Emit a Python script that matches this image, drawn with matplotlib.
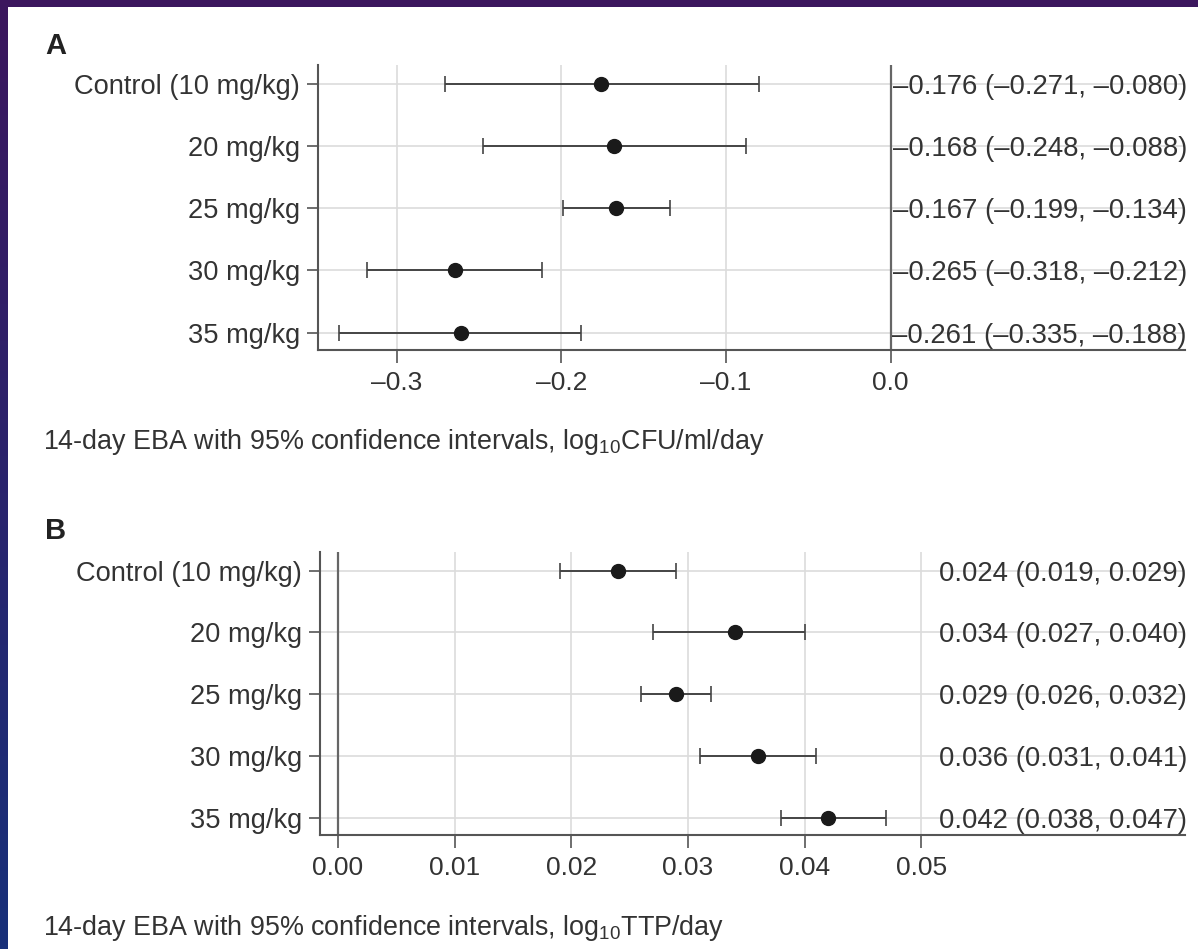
import matplotlib
matplotlib.use("Agg")
import matplotlib.pyplot as plt
import numpy as np
from matplotlib.patches import Rectangle

plt.rcParams['font.family'] = ['Liberation Sans', 'DejaVu Sans']
plt.rcParams['mathtext.fontset'] = 'custom'
plt.rcParams['mathtext.rm'] = 'Liberation Sans'

categories = ["Control (10 mg/kg)", "20 mg/kg", "25 mg/kg", "30 mg/kg", "35 mg/kg"]

a_est = [-0.176, -0.168, -0.167, -0.265, -0.261]
a_lo = [-0.271, -0.248, -0.199, -0.318, -0.335]
a_hi = [-0.080, -0.088, -0.134, -0.212, -0.188]
a_labels = ["\u20130.176 (\u20130.271, \u20130.080)",
            "\u20130.168 (\u20130.248, \u20130.088)",
            "\u20130.167 (\u20130.199, \u20130.134)",
            "\u20130.265 (\u20130.318, \u20130.212)",
            "\u20130.261 (\u20130.335, \u20130.188)"]
a_ticks = [-0.3, -0.2, -0.1, 0.0]
a_ticklabels = ["\u20130.3", "\u20130.2", "\u20130.1", "0.0"]

b_est = [0.024, 0.034, 0.029, 0.036, 0.042]
b_lo = [0.019, 0.027, 0.026, 0.031, 0.038]
b_hi = [0.029, 0.040, 0.032, 0.041, 0.047]
b_labels = ["0.024 (0.019, 0.029)", "0.034 (0.027, 0.040)", "0.029 (0.026, 0.032)",
            "0.036 (0.031, 0.041)", "0.042 (0.038, 0.047)"]
b_ticks = [0.00, 0.01, 0.02, 0.03, 0.04, 0.05]
b_ticklabels = ["0.00", "0.01", "0.02", "0.03", "0.04", "0.05"]

W, H = 1198, 949
fig = plt.figure(figsize=(W / 100, H / 100), dpi=100)

# background gradient
bg = fig.add_axes([0, 0, 1, 1])
bg.set_axis_off()
top = np.array([0x3c, 0x17, 0x5e]) / 255
bot = np.array([0x18, 0x30, 0x7a]) / 255
t = np.linspace(0, 1, 256)[:, None]
grad = top[None, None, :] * (1 - t[:, :, None]) + bot[None, None, :] * t[:, :, None]
bg.imshow(grad, aspect='auto', extent=[0, 1, 0, 1], origin='upper')
bg.add_patch(Rectangle((8 / W, 0), 1 - 8 / W, 1 - 7 / H, transform=bg.transAxes,
                       facecolor='white', edgecolor='none'))
bg.set_xlim(0, 1); bg.set_ylim(0, 1)

TXT = '#333333'
SP = '#555555'
GRID = '#dcdcdc'


def panel(rect, est, lo, hi, labels, ticks, ticklabels, xlim, text_ha, text_x):
    ax = fig.add_axes(rect)
    ax.set_facecolor('none')
    y = np.arange(len(categories))
    for spn in ['top', 'right']:
        ax.spines[spn].set_visible(False)
    for spn in ['left', 'bottom']:
        ax.spines[spn].set_color(SP)
        ax.spines[spn].set_linewidth(1.5)
    ax.set_xlim(*xlim)
    ax.set_ylim(len(categories) - 0.72, -0.3)
    for yy in y:
        ax.axhline(yy, color=GRID, lw=1.2, zorder=0)
    for tk in ticks:
        if tk != 0:
            ax.axvline(tk, color=GRID, lw=1.2, zorder=0)
    ax.axvline(0, color='#666666', lw=1.6, zorder=1)
    est = np.array(est); lo = np.array(lo); hi = np.array(hi)
    ax.errorbar(est, y, xerr=[est - lo, hi - est], fmt='o', color='#1a1a1a',
                ecolor='#444444', elinewidth=1.4, capsize=5.5, capthick=1.2,
                markersize=10, zorder=3)
    ax.set_yticks(y)
    ax.set_yticklabels(categories, fontsize=19.6, color=TXT)
    ax.set_xticks(ticks)
    ax.set_xticklabels(ticklabels, fontsize=19, color=TXT)
    ax.tick_params(axis='y', length=8, width=1.2, color=SP, pad=5)
    ax.tick_params(axis='x', length=9, width=1.2, color=SP, pad=6)
    for yy, lab in zip(y, labels):
        ax.text(text_x, yy, lab, ha=text_ha, va='center_baseline', fontsize=19.8,
                color=TXT, transform=ax.get_yaxis_transform(), zorder=4)
    return ax


# Panel A: left spine x=318, right 1185, top y=65, bottom y=350
axA = panel([318 / W, 1 - 350 / H, (1185 - 318) / W, (350 - 65) / H],
            a_est, a_lo, a_hi, a_labels, a_ticks, a_ticklabels,
            (-0.348, 0.179), 'right', (1187 - 318) / (1185 - 318))
# Panel B: left spine x=320, right 1185, top y=552, bottom y=835
axB = panel([320 / W, 1 - 835 / H, (1185 - 320) / W, (835 - 552) / H],
            b_est, b_lo, b_hi, b_labels, b_ticks, b_ticklabels,
            (-0.00154, 0.0726), 'right', (1187 - 320) / (1185 - 320))

fig.text(45 / W, 1 - 46 / H, "A", fontsize=21, fontweight='bold', color='#222222',
         ha='left', va='center')
fig.text(45 / W, 1 - 531 / H, "B", fontsize=21, fontweight='bold', color='#222222',
         ha='left', va='center')
fig.text(43 / W, 1 - 442 / H,
         r"14-day EBA with 95% confidence intervals, log$_{\mathrm{10}}$CFU/ml/day",
         fontsize=19.4, color=TXT, ha='left', va='center')
fig.text(43 / W, 1 - 928 / H,
         r"14-day EBA with 95% confidence intervals, log$_{\mathrm{10}}$TTP/day",
         fontsize=19.4, color=TXT, ha='left', va='center')

fig.savefig("out.png", dpi=100)
